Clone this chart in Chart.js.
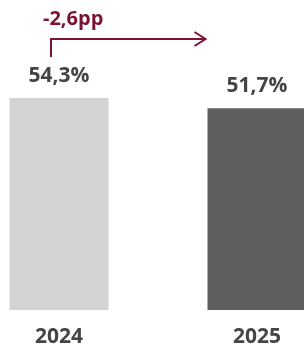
<!DOCTYPE html>
<html>
<head>
<meta charset="utf-8">
<script src="https://cdn.jsdelivr.net/npm/chart.js@4"></script>
<style>
  html, body { margin:0; padding:0; background:#fff; overflow:hidden; width:304px; height:347px; }
  #wrap { position:absolute; left:-40px; top:0; width:396px; height:347px; }
</style>
</head>
<body>
<div id="wrap"><canvas id="chart"></canvas></div>
<script>
const years = ['2024', '2025'];
const shares = [54.3, 51.7];
const barColors = ['#d4d4d4', '#5f5f5f'];
const deltaLabel = '-2,6pp';

const FONT = '"Open Sans", sans-serif';
const TEXT = '#454545';
const RED = '#7b1236';

const fmtPct = v => v.toFixed(1).replace('.', ',') + '%';

// value labels above bars + the delta arrow
const labelsPlugin = {
  id: 'labels',
  afterDatasetsDraw(chart) {
    const ctx = chart.ctx;
    const bars = chart.getDatasetMeta(0).data;
    ctx.save();
    ctx.fillStyle = TEXT;
    ctx.font = '700 21px ' + FONT;
    ctx.textAlign = 'center';
    ctx.textBaseline = 'alphabetic';
    bars.forEach((b, i) => ctx.fillText(fmtPct(shares[i]), b.x, b.y - 16));

    const a = bars[0], z = bars[1];
    const x0 = a.x - 8;
    const yLow = a.y - 41, yHigh = a.y - 59;
    const x1 = z.x - z.width / 2 - 2;
    ctx.strokeStyle = RED;
    ctx.lineWidth = 2;
    ctx.beginPath();
    ctx.moveTo(x0, yLow);
    ctx.lineTo(x0, yHigh);
    ctx.lineTo(x1, yHigh);
    ctx.stroke();
    ctx.beginPath();
    ctx.moveTo(x1 - 11, yHigh - 7);
    ctx.lineTo(x1, yHigh);
    ctx.lineTo(x1 - 11, yHigh + 7);
    ctx.stroke();

    ctx.fillStyle = RED;
    ctx.font = '700 20px ' + FONT;
    ctx.textAlign = 'left';
    ctx.fillText(deltaLabel, x0 - 8, yHigh - 14);
    ctx.restore();
  }
};

new Chart(document.getElementById('chart'), {
  type: 'bar',
  data: {
    labels: years,
    datasets: [{ data: shares, backgroundColor: barColors, borderWidth: 0,
                 categoryPercentage: 1, barPercentage: 0.5 }]
  },
  options: {
    responsive: true, maintainAspectRatio: false, animation: false,
    layout: { padding: 0 },
    plugins: { legend: { display: false }, tooltip: { enabled: false } },
    scales: {
      x: {
        grid: { display: false, drawTicks: false }, border: { display: false },
        ticks: { color: TEXT, padding: 14, font: { family: FONT, size: 21, weight: '700' } },
        afterFit: s => { s.height = 37; }
      },
      y: { display: false, min: 0, max: 79.4 }
    }
  },
  plugins: [labelsPlugin]
});
</script>
</body>
</html>
